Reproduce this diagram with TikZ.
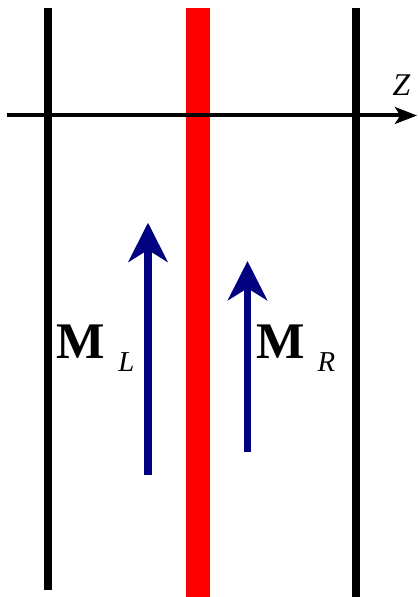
\documentclass[tikz,border=0pt]{standalone}
\usepackage{fontspec}
\setmainfont{Liberation Serif}
\usetikzlibrary{arrows.meta}
\definecolor{ink}{HTML}{000000}
\definecolor{spacer}{HTML}{FF0000}
\definecolor{moment}{HTML}{000080}

\begin{document}
\begin{tikzpicture}[
    x=0.025cm, y=-0.025cm,
    wire/.style={draw=ink, line width=0.2cm},
    mag/.style={
      draw=moment,
      line width=0.18cm,
      -{Stealth[length=0.98cm, width=0.98cm, inset=0.3cm]}
    },
    bigletter/.style={inner sep=0pt, font=\fontsize{36.5}{40}\selectfont\bfseries},
    subletter/.style={inner sep=0pt, font=\fontsize{20.5}{24}\selectfont\itshape}
  ]
    \useasboundingbox (0,0) rectangle (418,597);
    % the layers
    \fill[spacer] (185.7,8) rectangle (209.7,597);
    \draw[wire] (48,8) -- (48,590);
    \draw[wire] (355.7,8) -- (355.7,597);
    % z axis
    \coordinate (zfrom) at (7,115.5);
    \coordinate (zto) at (417,115.5);
    \draw[
      ink,
      line width=0.1cm,
      -{Stealth[length=0.55cm, width=0.42cm, inset=0.13cm]}
    ] (zfrom) -- (zto);
    \node[inner sep=0pt, font=\fontsize{22.5}{26}\selectfont\itshape] (zlabel) at (401.5,85.5) {Z};
    % magnetisations
    \coordinate (leftfoot) at (148,475);
    \coordinate (lefttip) at (148,222.7);
    \coordinate (rightfoot) at (247.5,451.7);
    \coordinate (righttip) at (247.5,261);
    \draw[mag] (leftfoot) -- (lefttip);
    \draw[mag] (rightfoot) -- (righttip);
    \node[bigletter] (ML) at (81,342) {M};
    \node[subletter] (MLsub) at (126.5,362.5) {L};
    \node[bigletter] (MR) at (280.5,342) {M};
    \node[subletter] (MRsub) at (326.5,362.5) {R};
  \end{tikzpicture}
\end{document}
